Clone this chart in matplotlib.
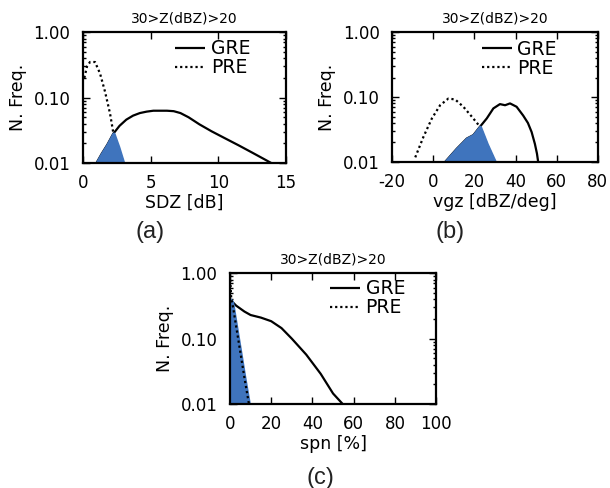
import numpy as np
import matplotlib
matplotlib.use("Agg")
import matplotlib.pyplot as plt
from matplotlib.ticker import FixedLocator, FixedFormatter, LogLocator, NullFormatter, NullLocator

plt.rcParams['font.family'] = ['DejaVu Sans']
plt.rcParams['axes.unicode_minus'] = False

# ---------------- data ----------------
title_text = "30>Z(dBZ)>20"
ylabel_text = "N. Freq."
legend_labels = ["GRE", "PRE"]
panel_labels = ["(a)", "(b)", "(c)"]
y_ticks = [0.01, 0.1, 1.0]
y_ticklabels = ["0.01", "0.10", "1.00"]

# (a) SDZ
a_xlabel = "SDZ [dB]"
a_xticks = [0, 5, 10, 15]
a_gre_x = [1.0, 1.4, 1.8, 2.24, 2.7, 3.2, 3.7, 4.2, 4.7, 5.2, 5.7, 6.2, 6.7, 7.2, 7.8, 8.6, 9.5, 10.5, 11.5, 12.5, 13.3, 13.9]
a_gre_y = [0.010, 0.014, 0.019, 0.028, 0.037, 0.046, 0.053, 0.058, 0.061, 0.063, 0.063, 0.063, 0.062, 0.058, 0.050, 0.039, 0.0305, 0.0238, 0.0186, 0.0144, 0.0117, 0.010]
a_pre_x = [0.1, 0.3, 0.52, 0.89, 1.26, 1.63, 2.0, 2.24, 2.61, 2.98]
a_pre_y = [0.20, 0.30, 0.35, 0.35, 0.234, 0.123, 0.057, 0.029, 0.0177, 0.010]

# (b) vgz
b_xlabel = "vgz [dBZ/deg]"
b_xticks = [-20, 0, 20, 40, 60, 80]
b_gre_x = [5.7, 11.4, 16.3, 19.5, 22.7, 26.0, 29.2, 32.4, 34.9, 37.3, 40.5, 43.7, 46.0, 47.8, 49.4, 50.4, 51.0]
b_gre_y = [0.010, 0.016, 0.023, 0.026, 0.035, 0.047, 0.067, 0.078, 0.075, 0.080, 0.071, 0.052, 0.040, 0.029, 0.019, 0.0135, 0.010]
b_pre_x = [-8.8, -4.8, -0.7, 3.3, 7.3, 10.6, 14.6, 18.7, 22.7, 26.0, 30.0]
b_pre_y = [0.0118, 0.0245, 0.047, 0.075, 0.095, 0.092, 0.071, 0.050, 0.035, 0.019, 0.010]

# (c) spn
c_xlabel = "spn [%]"
c_xticks = [0, 20, 40, 60, 80, 100]
c_gre_x = [0, 3, 7, 10, 15, 20, 25, 30, 37, 44, 50, 54.7]
c_gre_y = [0.40, 0.32, 0.26, 0.23, 0.21, 0.185, 0.145, 0.10, 0.057, 0.029, 0.0145, 0.010]
c_pre_x = [0, 0.6, 1.6, 3, 5, 7, 9.2]
c_pre_y = [0.95, 0.42, 0.29, 0.154, 0.063, 0.0255, 0.010]

# ---------------- style ----------------
fill_color = "#3f74bd"
ymin, ymax = 0.01, 1.0

fig = plt.figure(figsize=(6.1, 4.88), dpi=100)

panels = [
    dict(rect=[0.136, 0.666, 0.333, 0.268], xlim=(0, 15), xticks=a_xticks, xlabel=a_xlabel,
         gx=a_gre_x, gy=a_gre_y, px=a_pre_x, py=a_pre_y, leg=(0.455, 0.945), pre_top=False),
    dict(rect=[0.643, 0.668, 0.337, 0.266], xlim=(-20, 80), xticks=b_xticks, xlabel=b_xlabel,
         gx=b_gre_x, gy=b_gre_y, px=b_pre_x, py=b_pre_y, leg=(0.435, 0.94), pre_top=False),
    dict(rect=[0.377, 0.172, 0.338, 0.268], xlim=(0, 100), xticks=c_xticks, xlabel=c_xlabel,
         gx=c_gre_x, gy=c_gre_y, px=c_pre_x, py=c_pre_y, leg=(0.485, 0.955), pre_top=True),
]

for p in panels:
    ax = fig.add_axes(p['rect'])
    gx, gy = np.array(p['gx']), np.array(p['gy'])
    px, py = np.array(p['px']), np.array(p['py'])
    ax.plot(gx, gy, color='black', lw=1.6, solid_capstyle='butt', solid_joinstyle='round',
            zorder=2, label=legend_labels[0])
    ax.plot(px, py, color='black', lw=1.6, linestyle=(0, (1, 1.3)),
            zorder=3.5 if p['pre_top'] else 2, label=legend_labels[1])

    # overlap (minimum of both distributions)
    lo, hi = max(gx.min(), px.min()), min(gx.max(), px.max())
    xx = np.linspace(lo, hi, 400)
    lg = np.interp(xx, gx, np.log10(gy))
    lp = np.interp(xx, px, np.log10(py))
    mm = 10 ** np.minimum(lg, lp)
    ax.fill_between(xx, ymin, mm, color=fill_color, lw=2.2, edgecolor=fill_color, zorder=3)

    ax.set_yscale('log')
    ax.set_ylim(ymin, ymax)
    ax.set_xlim(*p['xlim'])
    ax.yaxis.set_major_locator(FixedLocator(y_ticks))
    ax.yaxis.set_major_formatter(FixedFormatter(y_ticklabels))
    ax.yaxis.set_minor_locator(LogLocator(base=10, subs=np.arange(2, 10)))
    ax.yaxis.set_minor_formatter(NullFormatter())
    ax.set_xticks(p['xticks'])
    ax.xaxis.set_minor_locator(NullLocator())
    ax.tick_params(which='both', direction='in', top=True, right=True, width=1.0, labelsize=12)
    ax.tick_params(which='major', length=5)
    ax.tick_params(which='minor', length=2.5)
    ax.tick_params(axis='x', pad=8)
    ax.tick_params(axis='y', pad=9)
    for s in ax.spines.values():
        s.set_linewidth(1.6)
        s.set_zorder(4)
    ax.set_xlabel(p['xlabel'], fontsize=12.5, labelpad=1)
    ax.set_ylabel(ylabel_text, fontsize=12.5, labelpad=5)
    ax.set_title(title_text, fontsize=10, pad=7)
    ax.legend(loc='upper left', bbox_to_anchor=p['leg'], frameon=False, fontsize=13.5,
              handlelength=1.6, handletextpad=0.3, labelspacing=0.0, borderpad=0, borderaxespad=0)

for lbl, (x, y) in zip(panel_labels, [(0.246, 0.525), (0.738, 0.525), (0.525, 0.021)]):
    fig.text(x, y, lbl, ha='center', va='center', fontsize=17,
             family=['Liberation Sans', 'DejaVu Sans'], color='#222222')

fig.savefig("out.png", dpi=100)
